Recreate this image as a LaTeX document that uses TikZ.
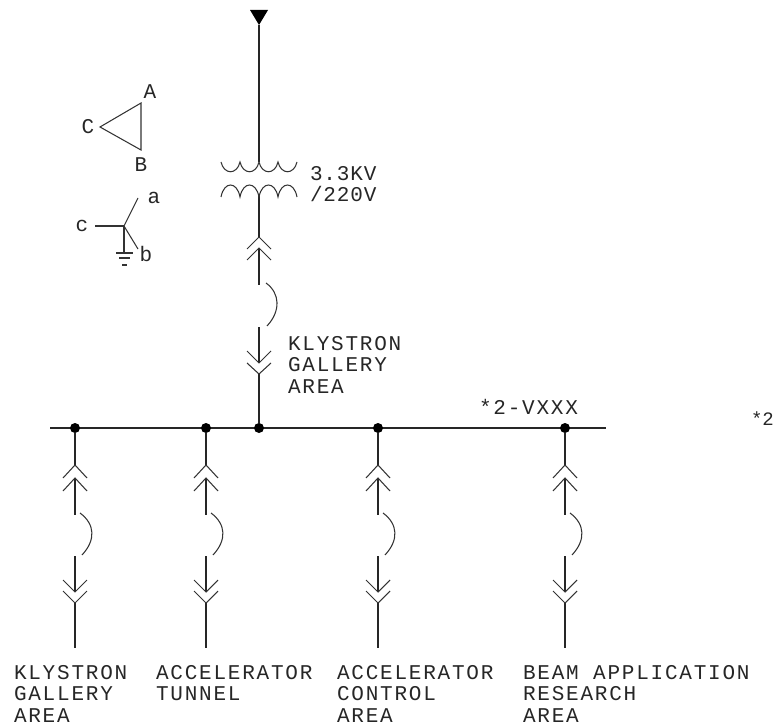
\documentclass[tikz,border=0pt]{standalone}
\usepackage{fontspec}
\newfontfamily\cadfont[LetterSpace=8.5]{Liberation Mono}
\newfontfamily\cadtight[LetterSpace=4]{Liberation Mono}
\newfontfamily\cadsmall{Liberation Mono}
\tikzset{
  wire/.style={line width=1.25pt,black!85},
  thin wire/.style={line width=1.05pt,black!80},
  junction/.style={circle,fill=black,inner sep=0pt,minimum size=10pt},
  cadtext/.style={font=\cadfont\fontsize{21}{21.5}\selectfont,inner sep=0pt,outer sep=0pt,align=left,anchor=north west,text=black!85},
  cadletter/.style={font=\cadfont\fontsize{21}{21.5}\selectfont,inner sep=0pt,outer sep=0pt,text=black!85}
}
\begin{document}
\begin{tikzpicture}[x=1pt,y=-1pt]
\useasboundingbox (0,0) rectangle (773,727);
% bus
\coordinate (busW) at (50,428);
\coordinate (busE) at (606,428);
\draw[wire] (busW) -- (busE);
\foreach \n/\x in {j1/75,j2/206,j3/259,j4/378,j5/565}{
  \node[junction] (\n) at (\x,428) {};
}
% feeders
\foreach \n/\x in {j1/75,j2/206,j4/378,j5/565}{
  \coordinate (\n u1) at (\x,465);
  \coordinate (\n u2) at (\x,478);
  \coordinate (\n f1) at (\x,515);
  \coordinate (\n f2) at (\x,556);
  \coordinate (\n d1) at (\x,592);
  \coordinate (\n d2) at (\x,603);
  \coordinate (\n e) at (\x,648);
  \draw[wire] (\n) -- (\n u1);
  \draw[wire] (\n u2) -- (\n f1);
  \draw[wire] (\n f2) -- (\n d1);
  \draw[wire] (\n d2) -- (\n e);
  \draw[thin wire] ([shift={(-12,13)}]\n u1) -- (\n u1) -- ([shift={(12,13)}]\n u1);
  \draw[thin wire] ([shift={(-12,13)}]\n u2) -- (\n u2) -- ([shift={(12,13)}]\n u2);
  \draw[thin wire] ([shift={(-12,-12)}]\n d1) -- (\n d1) -- ([shift={(12,-12)}]\n d1);
  \draw[thin wire] ([shift={(-12,-12)}]\n d2) -- (\n d2) -- ([shift={(12,-12)}]\n d2);
  \draw[thin wire] ([shift={(5,-2)}]\n f1) .. controls +(15,11) and ([shift={(21,-16)}]\n f2) .. ([shift={(7,-1)}]\n f2);
}
% incoming feeder
\coordinate (su1) at (259,237);
\coordinate (su2) at (259,248);
\coordinate (sf1) at (259,285);
\coordinate (sf2) at (259,327);
\coordinate (sd1) at (259,363);
\coordinate (sd2) at (259,374);
\coordinate (top) at (259,25);
\coordinate (pri) at (259,162);
\coordinate (sec) at (259,196);
\draw[wire] (top) -- (pri);
\draw[wire] (sec) -- (su1);
\draw[wire] (su2) -- (sf1);
\draw[wire] (sf2) -- (sd1);
\draw[wire] (sd2) -- (j3);
\draw[thin wire] ([shift={(-12,12)}]su1) -- (su1) -- ([shift={(12,12)}]su1);
\draw[thin wire] ([shift={(-12,12)}]su2) -- (su2) -- ([shift={(12,12)}]su2);
\draw[thin wire] ([shift={(-12,-12)}]sd1) -- (sd1) -- ([shift={(12,-12)}]sd1);
\draw[thin wire] ([shift={(-12,-11)}]sd2) -- (sd2) -- ([shift={(12,-11)}]sd2);
\draw[thin wire] ([shift={(7,-2)}]sf1) .. controls +(14,10) and ([shift={(22,-16)}]sf2) .. ([shift={(8,-1)}]sf2);
% source triangle
\fill[black] (250,10) -- (268,10) -- (top) -- cycle;
% transformer coils
\draw[thin wire] (221,162) \foreach \a in {221,240,259,278}{
  .. controls (\a+3,175) and (\a+16,175) .. (\a+19,162)};
\draw[thin wire] (221,197) \foreach \a in {221,240,259,278}{
  .. controls (\a+3,181) and (\a+16,181) .. (\a+19,197)};
% delta symbol
\coordinate (dA) at (141,103);
\coordinate (dB) at (141,150);
\coordinate (dC) at (100,127);
\draw[thin wire] (dA) -- (dB) -- (dC) -- cycle;
\node[cadletter] (lA) at (150,92) {A};
\node[cadletter] (lB) at (141,165) {B};
\node[cadletter] (lC) at (88,127) {C};
% wye symbol
\coordinate (wO) at (124,226);
\coordinate (wa) at (138,198);
\coordinate (wb) at (138,249);
\coordinate (wc) at (95,226);
\coordinate (wg) at (124,253);
\draw[thin wire] (wO) -- (wa);
\draw[thin wire] (wO) -- (wb);
\draw[thin wire] (wO) -- (wc);
\draw[thin wire] (wO) -- (wg);
\draw[thin wire] ([xshift=-8]wg) -- ([xshift=9]wg);
\draw[thin wire] ([shift={(-5,5)}]wg) -- ([shift={(6,5)}]wg);
\draw[thin wire] ([shift={(-2,12)}]wg) -- ([shift={(3,12)}]wg);
\node[cadletter] (la) at (154,198) {a};
\node[cadletter] (lb) at (146,254) {b};
\node[cadletter] (lc) at (82,226) {c};
% labels
\node[cadtext,font=\cadtight\fontsize{21}{21.5}\selectfont] (tv) at (310,166) {3.3KV\\/220V};
\node[cadtext] (kg) at (288,336) {KLYSTRON\\GALLERY\\AREA};
\node[cadtext] (bus) at (479,399) {*2-VXXX};
\node[cadtext,font=\cadsmall\fontsize{19}{21.5}\selectfont] (cut) at (751,412) {*2};
\node[cadtext] (f1) at (14,665) {KLYSTRON\\GALLERY\\AREA};
\node[cadtext] (f2) at (156,665) {ACCELERATOR\\TUNNEL};
\node[cadtext] (f3) at (337,665) {ACCELERATOR\\CONTROL\\AREA};
\node[cadtext] (f4) at (523,665) {BEAM APPLICATION\\RESEARCH\\AREA};
\end{tikzpicture}
\end{document}
